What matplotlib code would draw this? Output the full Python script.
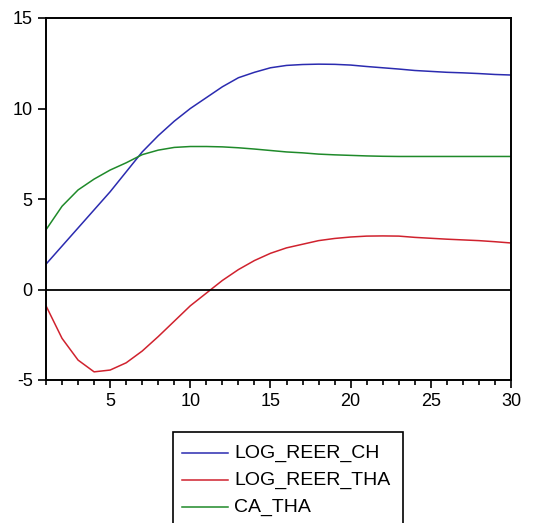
import matplotlib
matplotlib.use("Agg")
import matplotlib.pyplot as plt
from matplotlib.patches import Rectangle
from matplotlib.lines import Line2D

plt.rcParams['font.family'] = ['Liberation Sans', 'DejaVu Sans']
plt.rcParams['axes.unicode_minus'] = False

periods = list(range(1, 31))
log_reer_ch = [1.4, 2.4, 3.4, 4.4, 5.4, 6.5, 7.6, 8.5, 9.3, 10.0,
               10.6, 11.2, 11.7, 12.0, 12.25, 12.38, 12.43, 12.45, 12.44, 12.4,
               12.32, 12.25, 12.18, 12.1, 12.05, 12.0, 11.97, 11.93, 11.88, 11.85]
log_reer_tha = [-0.9, -2.7, -3.9, -4.55, -4.45, -4.05, -3.4, -2.6, -1.75, -0.9,
                -0.2, 0.5, 1.1, 1.6, 2.0, 2.3, 2.5, 2.7, 2.82, 2.9,
                2.95, 2.96, 2.95, 2.88, 2.83, 2.78, 2.74, 2.7, 2.64, 2.57]
ca_tha = [3.3, 4.6, 5.5, 6.1, 6.6, 7.0, 7.45, 7.7, 7.85, 7.9,
          7.9, 7.88, 7.83, 7.76, 7.68, 7.6, 7.55, 7.48, 7.44, 7.41,
          7.38, 7.36, 7.35, 7.35, 7.35, 7.35, 7.35, 7.35, 7.35, 7.35]
series_names = ["LOG_REER_CH", "LOG_REER_THA", "CA_THA"]
colors = ["#2b2bb0", "#d0222e", "#1f8a2a"]
yticks = [-5, 0, 5, 10, 15]
xticks = [5, 10, 15, 20, 25, 30]

W, H = 540, 523
fig = plt.figure(figsize=(W/100, H/100), dpi=100)
ax = fig.add_axes([46/W, 1-380/H, (511-46)/W, (380-18)/H])

for vals, name, c in zip([log_reer_ch, log_reer_tha, ca_tha], series_names, colors):
    ax.plot(periods, vals, color=c, lw=1.1, label=name)
ax.axhline(0, color="black", lw=1.3)

ax.set_xlim(1, 30)
ax.set_ylim(-5, 15)
ax.set_yticks(yticks)
ax.set_xticks(xticks)
ax.set_xticks(periods, minor=True)
for s in ax.spines.values():
    s.set_linewidth(1.4)
ax.tick_params(axis='both', which='major', direction='out', length=6, width=1.2,
               labelsize=13, colors='black')
ax.tick_params(axis='x', which='minor', direction='out', length=3.5, width=1.2)
ax.tick_params(axis='y', which='minor', length=0)
ax.tick_params(axis='x', pad=3)

# legend box (bottom edge runs past the figure, as in the reference)
def fx(px):
    return px / W

def fy(py):
    return 1 - py / H

fig.patches.append(Rectangle((fx(173), fy(540)), fx(403) - fx(173), fy(432) - fy(540),
                             transform=fig.transFigure, fill=False,
                             edgecolor='black', lw=1.2))
for i, (name, c) in enumerate(zip(series_names, colors)):
    yc = 453 + 27 * i
    fig.lines.append(Line2D([fx(182), fx(228)], [fy(yc), fy(yc)],
                            transform=fig.transFigure, color=c, lw=1.1))
    fig.text(fx(234), fy(yc), name, fontsize=14, va='center', ha='left')

fig.savefig("out.png", dpi=100)
